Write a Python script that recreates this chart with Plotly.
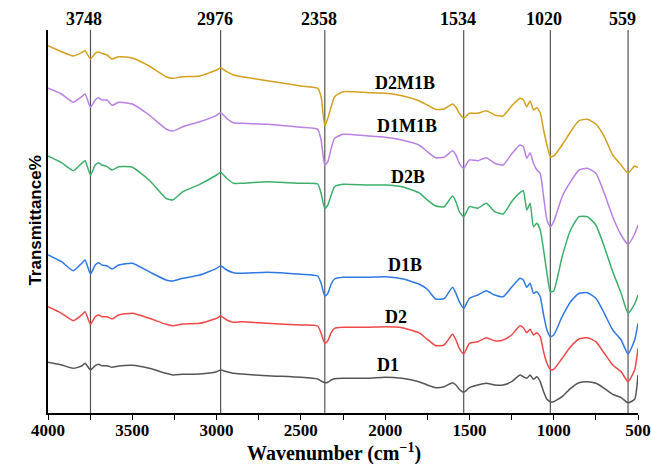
import plotly.graph_objects as go

wavenumber = [4000, 3920, 3850, 3800, 3780, 3748, 3720, 3700, 3680, 3650,
              3620, 3580, 3500, 3400, 3300, 3260, 3200, 3100, 3000, 2976,
              2940, 2900, 2850, 2700, 2500, 2400, 2380, 2358, 2340, 2320,
              2300, 2250, 2100, 2000, 1900, 1800, 1750, 1700, 1650, 1600,
              1580, 1560, 1534, 1500, 1450, 1400, 1350, 1300, 1250, 1200,
              1180, 1160, 1140, 1120, 1100, 1080, 1060, 1040, 1020, 1000,
              950, 900, 850, 800, 750, 700, 650, 600, 559, 520,
              500]

D2M1B = [367.3, 361.3, 357, 360.3, 362.3, 354, 359.7, 361, 359.7, 358,
         354, 356.3, 355, 347, 336.3, 334.7, 336.3, 337, 343, 345.3,
         341.3, 338, 336.3, 332.3, 327, 324.7, 316.3, 287.3, 294.7, 306.3,
         316.3, 321.3, 320.3, 319.7, 317.3, 312.3, 308, 303.5, 304, 309,
         305.7, 299.7, 294.7, 299.7, 299.7, 302.3, 298, 297, 307, 314.7,
         313, 306.3, 312, 303, 305.3, 300.3, 283, 268, 256.3, 257,
         268, 281.3, 292.3, 293.7, 289, 276.3, 258, 248, 239.7, 247,
         245.3]

D1M1B = [324.7, 319, 310.7, 316.3, 319, 305.7, 313, 315.3, 313, 313,
         307.7, 310.7, 309, 298, 284, 282, 286.3, 291.3, 297.7, 300.3,
         294.7, 290.3, 289.7, 288.7, 285.7, 283.7, 273, 248, 251.3, 264.7,
         274.7, 278.7, 277, 275.7, 273, 268, 261.3, 255.3, 255.7, 262.3,
         258, 249.7, 244.7, 253, 252.3, 255.3, 249.7, 248, 259, 268,
         266.3, 254.7, 260.3, 249.7, 243, 239.7, 216.3, 193, 186.3, 191.3,
         216.3, 231.3, 243, 244.7, 239.7, 219.7, 196.3, 178, 168.7, 179,
         188]

D2B = [257, 250.3, 242.3, 249.7, 252.3, 238, 248, 250.3, 248, 246.3,
       243, 246.3, 245.7, 233, 214.7, 213, 221.3, 228.7, 238, 240.7,
       234.7, 229.7, 229.7, 231.3, 229.7, 229, 219.7, 204.7, 208, 218,
       226.3, 228.7, 228, 228, 226.3, 220.3, 213, 207, 206.3, 217,
       211.3, 201.3, 196.3, 206.3, 204.7, 209.7, 201.3, 199, 211.3, 220.3,
       222.3, 203, 209.7, 186.3, 189.7, 183, 163, 139.7, 121.3, 122,
       156.3, 183, 196.3, 196.3, 188, 166.3, 141.3, 119.7, 99.7, 109,
       118]

D1B = [158, 151.3, 142.3, 149.7, 153, 139, 148, 150.3, 148, 147,
       144, 148, 149.7, 141.3, 133, 132, 134.7, 138, 144.7, 147.3,
       143, 140.3, 139.7, 140.7, 138.7, 137, 129.7, 117, 119.7, 129,
       134, 135.7, 135.7, 136.3, 134.3, 129, 123.7, 114, 114.3, 125.7,
       119.7, 111.3, 104.7, 114.7, 118, 122.3, 118, 116.3, 125.7, 134.7,
       133, 125.7, 129.7, 119.7, 121.3, 116.3, 98, 83, 76.3, 78,
       96.3, 111.3, 119.7, 120.3, 114.7, 99.7, 83, 73, 59, 73,
       89.7]

D2 = [106.3, 99.7, 92.3, 98, 101.3, 88.7, 96.3, 98, 96.3, 96.3,
      94, 98, 99.7, 94.7, 88.7, 87.3, 89, 89.7, 94.7, 97,
      93, 90.7, 91.3, 89.7, 88, 87, 79.7, 69.7, 72.3, 80.3,
      84.7, 85.7, 85.7, 86.3, 85.3, 80.3, 73.7, 67.3, 68, 78.7,
      73, 64.7, 59, 69.7, 71.3, 75.3, 72.3, 73, 78, 87.3,
      85.3, 80.3, 83.7, 78, 80.3, 76.3, 61.3, 49.7, 43.7, 43.7,
      54.7, 66.3, 74, 75.3, 71.3, 59.7, 48, 41.3, 31.3, 43,
      64.7]

D1 = [50.7, 48, 44.7, 47, 49.7, 43, 47.3, 48.7, 47.3, 47.3,
      45.7, 47, 47.7, 44.7, 39.7, 38, 38.7, 39, 41.3, 43,
      41.3, 39.7, 39, 37.3, 35.7, 34, 32, 30.3, 30.7, 33,
      34.3, 34.7, 34.7, 35.7, 34.7, 31.3, 28, 25.3, 26.3, 30.3,
      28, 23.7, 20.7, 25.3, 28, 29.7, 28, 28, 31.3, 38,
      36.3, 34.7, 38, 33.7, 36.3, 31.3, 21.3, 13.7, 11.3, 11.3,
      16.3, 24.7, 30.3, 31.3, 29.7, 24.7, 18.7, 15.3, 10.3, 13.7,
      38]

series_names = ["D2M1B", "D1M1B", "D2B", "D1B", "D2", "D1"]
series_values = [D2M1B, D1M1B, D2B, D1B, D2, D1]
series_colors = ["#D4A020", "#B980E6", "#3DAF6A", "#2F78E6", "#F04848", "#555555"]

peak_positions = [3748, 2976, 2358, 1534, 1020, 559]

label_x = [1884, 1873, 1867, 1884, 1938, 1985]
label_y = [330, 287, 236, 148, 96, 48]

x_tick_vals = [4000, 3500, 3000, 2500, 2000, 1500, 1000, 500]

for s in series_values:
    assert len(s) == len(wavenumber)

serif = "Liberation Serif, Times New Roman, serif"

fig = go.Figure()
for name, vals, col in zip(series_names, series_values, series_colors):
    fig.add_trace(go.Scatter(x=wavenumber, y=vals, mode="lines", name=name,
                             line=dict(color=col, width=1.5, shape="spline", smoothing=0.5),
                             showlegend=False, hoverinfo="skip"))

for p in peak_positions:
    fig.add_shape(type="line", x0=p, x1=p, y0=0, y1=1, xref="x", yref="paper",
                  line=dict(color="#555555", width=1.2), layer="below")
    fig.add_annotation(x=p, y=1, xref="x", yref="paper", text="<b>%d</b>" % p,
                       showarrow=False, yanchor="middle", yshift=11, xshift=-6,
                       font=dict(family=serif, size=18, color="black"))

for name, lx, ly in zip(series_names, label_x, label_y):
    fig.add_annotation(x=lx, y=ly, text="<b>%s</b>" % name, showarrow=False,
                       font=dict(family=serif, size=18, color="black"))

fig.add_annotation(x=0, y=0.501, xref="paper", yref="paper", xshift=-24,
                   text="<b>Transmittance%</b>", textangle=-90, showarrow=False,
                   font=dict(family="Liberation Sans, Arial, sans-serif", size=17, color="black"))

fig.add_annotation(x=0.484, y=0, xref="paper", yref="paper", yshift=-39, yanchor="middle",
                   text="<b>Wavenumber (cm<sup>−1</sup>)</b>", showarrow=False,
                   font=dict(family=serif, size=20, color="black"))

fig.update_layout(
    width=651, height=464,
    margin=dict(l=48, r=13, t=30, b=51, autoexpand=False),
    paper_bgcolor="white", plot_bgcolor="white",
    xaxis=dict(range=[4000, 500], tickvals=x_tick_vals, automargin=False,
               ticktext=["<b>%d</b>" % v for v in x_tick_vals],
               showgrid=False, zeroline=False, showline=True, linecolor="black", linewidth=1.5,
               ticks="outside", ticklen=5, tickwidth=1.2, tickcolor="black",
               ticklabelstandoff=-4,
               minor=dict(dtick=250, tick0=0, ticks="outside", ticklen=5, tickwidth=1.2, tickcolor="black"),
               tickfont=dict(family=serif, size=17, color="black")),
    yaxis=dict(range=[0, 383], showticklabels=False, ticks="", showgrid=False, zeroline=False,
               automargin=False, showline=True, linecolor="black", linewidth=1.5),
)

fig.write_html("out.html", config={"displayModeBar": False},
               post_script="document.body.style.margin='0';document.body.style.overflow='hidden';")
